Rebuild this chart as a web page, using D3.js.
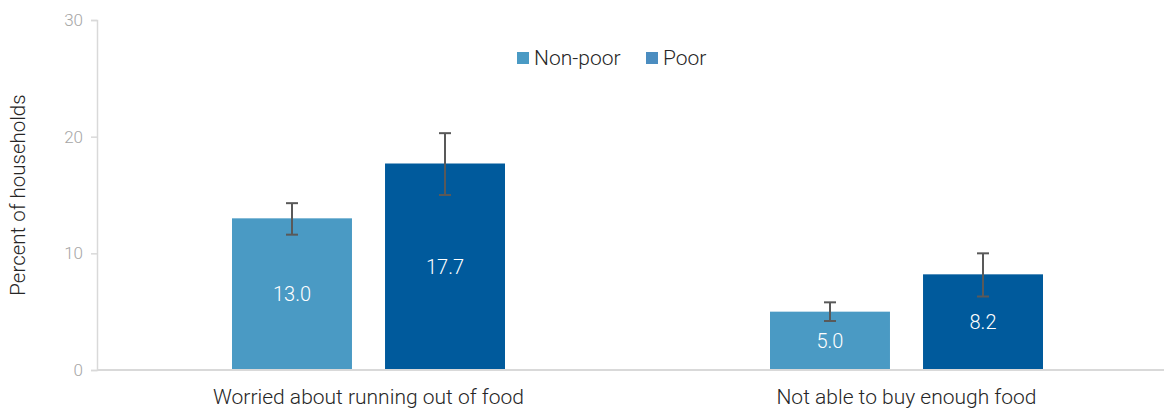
<!DOCTYPE html>
<html>
<head>
<meta charset="utf-8">
<script src="https://cdn.jsdelivr.net/npm/d3@7"></script>
<style>
  body { margin: 0; background: #fff; }
  text { font-family: Roboto, "Noto Sans", sans-serif; font-weight: 300; }
</style>
</head>
<body>
<div id="chart"></div>
<script>
// data
const categories = ["Worried about running out of food", "Not able to buy enough food"];
const seriesNames = ["Non-poor", "Poor"];
const nonPoorValues = [13.0, 5.0];
const poorValues = [17.7, 8.2];
const nonPoorLow = [11.6, 4.2];
const nonPoorHigh = [14.3, 5.8];
const poorLow = [15.0, 6.3];
const poorHigh = [20.3, 10.0];
const yTicks = [0, 10, 20, 30];

const width = 1164, height = 408;
const margin = {top: 20, right: 0, bottom: 38, left: 97};

const svg = d3.select("#chart").append("svg")
  .attr("width", width)
  .attr("height", height);

const y = d3.scaleLinear().domain([0, 30]).range([height - margin.bottom, margin.top]);

// category bands (each 538px wide), bars sit inside with 132.5px outer gaps
const x0 = d3.scaleBand().domain(categories).range([99.5, 1175.5]);
const x1 = d3.scaleBand().domain(seriesNames).range([132.5, 405.5]).paddingInner(0.216);

const barColors = {"Non-poor": "#4a9ac4", "Poor": "#005a9c"};
const legendColors = {"Non-poor": "#4a9ac4", "Poor": "#4b8dc0"};

// y axis
const yAxis = svg.append("g")
  .attr("transform", `translate(${margin.left},0)`)
  .call(d3.axisLeft(y).tickValues(yTicks).tickSize(6).tickPadding(8));
yAxis.select(".domain").attr("stroke", "#d9d9d9").attr("stroke-width", 1.5);
yAxis.selectAll(".tick line").attr("stroke", "#d9d9d9").attr("stroke-width", 1.5);
yAxis.selectAll(".tick text")
  .attr("fill", "#a6a6a6")
  .style("font-size", "17px")
  .style("font-family", "Roboto, sans-serif")
  .style("font-weight", 300);

svg.append("text")
  .attr("transform", `translate(25,${(y(0) + y(30)) / 2}) rotate(-90)`)
  .attr("text-anchor", "middle")
  .attr("fill", "#262626")
  .style("font-size", "20.5px")
  .text("Percent of households");

// rows
const rows = categories.map((c, i) => ({
  cat: c,
  bars: [
    {s: "Non-poor", v: nonPoorValues[i], lo: nonPoorLow[i], hi: nonPoorHigh[i]},
    {s: "Poor", v: poorValues[i], lo: poorLow[i], hi: poorHigh[i]}
  ]
}));

const group = svg.selectAll("g.grp")
  .data(rows)
  .join("g")
  .attr("class", "grp")
  .attr("transform", d => `translate(${x0(d.cat)},0)`);

group.selectAll("rect")
  .data(d => d.bars)
  .join("rect")
  .attr("x", d => x1(d.s))
  .attr("width", x1.bandwidth())
  .attr("y", d => y(d.v))
  .attr("height", d => y(0) - y(d.v))
  .attr("fill", d => barColors[d.s]);

group.selectAll("text.val")
  .data(d => d.bars)
  .join("text")
  .attr("class", "val")
  .attr("x", d => x1(d.s) + x1.bandwidth() / 2)
  .attr("y", d => (y(d.v) + y(0)) / 2 + 7)
  .attr("text-anchor", "middle")
  .attr("fill", "#fff")
  .style("font-size", "20px")
  .text(d => d.v.toFixed(1));

// error bars
const err = group.selectAll("g.err")
  .data(d => d.bars)
  .join("g")
  .attr("class", "err")
  .attr("stroke", "#595959")
  .attr("stroke-width", 2);
err.append("line")
  .attr("x1", d => x1(d.s) + x1.bandwidth() / 2)
  .attr("x2", d => x1(d.s) + x1.bandwidth() / 2)
  .attr("y1", d => y(d.lo))
  .attr("y2", d => y(d.hi));
err.append("line")
  .attr("x1", d => x1(d.s) + x1.bandwidth() / 2 - 6)
  .attr("x2", d => x1(d.s) + x1.bandwidth() / 2 + 6)
  .attr("y1", d => y(d.hi))
  .attr("y2", d => y(d.hi));
err.append("line")
  .attr("x1", d => x1(d.s) + x1.bandwidth() / 2 - 6)
  .attr("x2", d => x1(d.s) + x1.bandwidth() / 2 + 6)
  .attr("y1", d => y(d.lo))
  .attr("y2", d => y(d.lo));

// x baseline
svg.append("line")
  .attr("x1", margin.left)
  .attr("x2", width)
  .attr("y1", y(0))
  .attr("y2", y(0))
  .attr("stroke", "#d9d9d9")
  .attr("stroke-width", 2);

// category labels
svg.selectAll("text.cat")
  .data(categories)
  .join("text")
  .attr("class", "cat")
  .attr("x", d => x0(d) + x0.bandwidth() / 2)
  .attr("y", 404)
  .attr("text-anchor", "middle")
  .attr("fill", "#262626")
  .style("font-size", "21px")
  .text(d => d);

// legend
const legendX = [517, 646];
const legend = svg.selectAll("g.leg")
  .data(seriesNames)
  .join("g")
  .attr("class", "leg")
  .attr("transform", (d, i) => `translate(${legendX[i]},52)`);
legend.append("rect")
  .attr("width", 12).attr("height", 12)
  .attr("fill", d => legendColors[d]);
legend.append("text")
  .attr("x", 17).attr("y", 13)
  .attr("fill", "#262626")
  .style("font-size", "21px")
  .text(d => d);
</script>
</body>
</html>
